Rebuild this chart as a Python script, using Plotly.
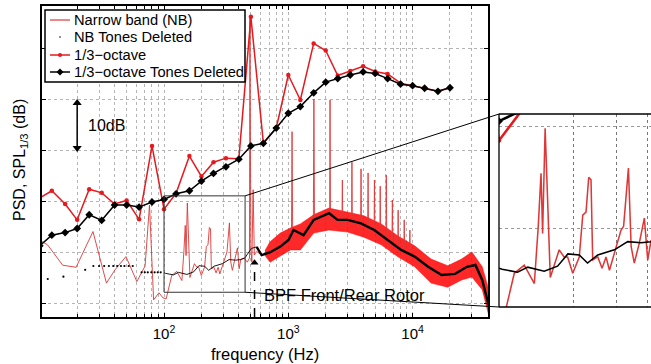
import numpy as np
import plotly.graph_objects as go

# ---------------- data ----------------
THIRD_OCT_F = [10, 12.5, 16, 20, 25, 31.5, 40, 50, 63, 80, 100, 125, 160, 200, 250,
               315, 400, 500, 630, 800, 1000, 1250, 1600, 2000, 2500, 3150, 4000,
               5000, 6300, 8000, 10000, 12500, 16000, 20000]
THIRD_OCT_DB = [30.8, 32.2, 29.6, 26.5, 32.5, 31.8, 29.6, 30.3, 26.6, 41.0, 28.6, 31.7,
                39.0, 35.0, 37.8, 38.6, 38.5, 66.3, 41.6, 44.5, 54.9, 50.0, 61.1, 59.7,
                54.8, 55.7, 56.6, 55.6, 55.1, 53.3, 52.8, 52.3, 51.7, 52.4]
THIRD_OCT_TD_DB = [21.4, 23.5, 24.0, 24.8, 27.5, 26.4, 29.4, 29.4, 29.0, 30.0, 30.5, 31.6,
                   32.2, 34.1, 35.6, 36.9, 38.4, 41.0, 41.5, 44.5, 47.4, 48.7, 51.4, 53.5,
                   54.2, 54.9, 55.5, 55.2, 54.2, 53.1, 52.8, 52.3, 51.7, 52.4]

NB_F = [10, 11.55, 15.3, 19.6, 26.8, 34.4, 40.3, 49.4, 60.4, 70.4, 76.4, 82.4, 91, 98,
        104, 115.4, 126.7, 139.2, 144.4, 148.2, 150.4, 154, 161.6, 175.7, 183.8, 190.1,
        199.4, 212, 219, 225.8, 231.6, 236.6, 240.4, 252.1, 262.4, 272.4, 281.2, 313.2,
        321, 335.8, 344.5, 354.8, 371.4, 389.8, 402.3, 414.9, 440, 468, 487, 491, 500,
        509, 521, 533, 556, 610, 670, 736, 810, 916, 1000, 1060, 1072, 1085, 1300, 1590,
        1607, 1625, 1900, 2150, 2167, 2185, 2700, 2723, 2745, 3230, 3251, 3275, 3820,
        3849, 3880, 4350, 4385, 4420, 4900, 4935, 4970, 5450, 5492, 5535, 6100, 6146,
        6195, 6820, 6876, 6930, 7600, 7655, 7710, 8500, 8569, 8640, 9440, 9510, 9580,
        12000, 16000, 22000, 28000, 33000, 37000, 41500]
NB_DB = [22.5, 21.6, 17.6, 17.2, 24.2, 14.1, 16.7, 19.3, 14.4, 17.45, 29.4, 10.8, 12.2, 11.2,
         11.0, 15.6, 16.4, 14.6, 20.2, 25.4, 19.5, 29.8, 15.2, 17.9, 17.2, 17.2,
         15.6, 17.2, 21.3, 21.6, 25.0, 24.75, 16.9, 17.2, 16.1, 17.2, 15.9, 19.8,
         20.2, 25.9, 18.2, 16.6, 18.5, 21.0, 16.9, 18.8, 19.0, 18.2, 19.0, 66.3, 20.6,
         18.2, 32.4, 19.6, 20.3, 19.6, 19.9, 20.9, 21.6, 22.6, 23.0, 22.5, 43.8, 22.5, 23.0, 25.5,
         50.2, 25.5, 26.5, 26.5, 50.0, 26.5, 25.5, 34.3, 25.5, 26.0, 37.8, 26.0, 25.5,
         36.5, 25.5, 24.5, 35.7, 24.5, 24.0, 34.3, 24.0, 23.5, 33.1, 23.5, 22.5, 35.3,
         22.5, 21.5, 30.4, 21.5, 20.5, 28.4, 20.5, 20.0, 26.5, 20.0, 19.5, 24.5, 19.5,
         17.5, 15.5, 16.0, 17.5, 17.0, 14.0, 8.5]

NB_TD_F = [11.6, 15.5, 23.2, 27, 30, 33, 36, 39, 42, 45, 48, 52, 56, 66, 70, 74, 79, 84,
           89, 94, 100, 103, 119, 130.8, 152.7, 173, 190.5, 212, 229, 252, 294.6, 333.5,
           378, 414, 446, 505, 556, 610, 710, 862, 1004, 1102, 1326, 1600, 2131, 2492,
           3000, 3843, 4920, 6305, 8089, 10390, 13340, 17130, 21990, 27370, 32040,
           36350, 41240]
NB_TD_DB = [14.9, 15.35, 16.7, 17.45, 17.45, 17.45, 17.45, 17.45, 17.45, 17.45, 17.45,
            17.45, 17.45, 16.2, 16.2, 16.2, 16.2, 16.2, 16.2, 16.2, 16.1, 16.0, 15.7, 16.2,
            15.8, 16.3, 17.5, 17.4, 16.6, 17.4, 17.9, 18.7, 18.6, 18.7, 19.0, 20.9, 21.2,
            19.6, 20.1, 21.25, 22.55, 24.5, 23.5, 26.5, 27.8, 26.5, 26.5, 25.8, 24.5,
            22.55, 20.6, 19.3, 17.3, 15.7, 15.9, 17.3, 17.65, 14.7, 9.5]

NB_BAND_F = [650, 714, 862, 1040, 1250, 1600, 2120, 3000, 4060, 5600, 7680, 10400,
             14100, 19200, 24800, 30000, 36350, 41500]
NB_BAND_HI_DB = [20.5, 22.2, 23.9, 24.9, 25.7, 27.5, 28.8, 28.0, 27.3, 25.7, 23.3, 21.4,
                 18.8, 17.5, 18.8, 20.2, 17.3, 12.4]
NB_BAND_LO_DB = [19.5, 18.2, 19.4, 20.6, 20.6, 23.9, 24.5, 24.1, 23.1, 21.6, 19.2, 17.3,
                 14.1, 13.3, 14.7, 15.3, 12.8, 7.3]

X_LABELED_TICKS = [100, 1000, 10000]
X_TICK_LABELS = ["10<sup>2</sup>", "10<sup>3</sup>", "10<sup>4</sup>"]
Y_GRID_DB = [10, 20, 30, 40, 50, 60]
INSET_X_GRID = [200, 300, 400]
INSET_Y_GRID = [20, 30]
ZOOM_F = [100, 449]
ZOOM_DB = [12.3, 31.2]
BPF_F = 535
BPF_DB = 19.0
SCALE_BAR_F = 20
SCALE_BAR_DB = [40, 50]
LEGEND_LABELS = ["Narrow band (NB)", "NB Tones Deleted", "1/3\u2212octave",
                 "1/3\u2212octave Tones Deleted"]

# ---------------- layout constants ----------------
W, H = 651, 364
FONT = "Liberation Sans, Arial, Helvetica, sans-serif"
NB_RED = "rgb(222,55,55)"
BAND_RED = "rgba(255,10,10,0.88)"
OCT_RED = "rgb(230,25,30)"
GRID = "#b4b4b4"


def px(x):
    return x / W


def py(y):
    return (H - y) / H


MAIN_X_DOM = [px(42), px(488)]
MAIN_Y_DOM = [py(317), py(6)]
MAIN_X_RANGE = [1.018, 4.607]
MAIN_Y_RANGE = [7.45, 68.43]
INSET_X_DOM = [px(499), 1.0]
INSET_Y_DOM = [py(307), py(114)]
INSET_PX_PER_DEC = 246.0
INSET_X_RANGE = [np.log10(ZOOM_F[0]), np.log10(ZOOM_F[0]) + (W - 499) / INSET_PX_PER_DEC]
INSET_Y_RANGE = ZOOM_DB


def main_fx(f):
    t = (np.log10(f) - MAIN_X_RANGE[0]) / (MAIN_X_RANGE[1] - MAIN_X_RANGE[0])
    return MAIN_X_DOM[0] + t * (MAIN_X_DOM[1] - MAIN_X_DOM[0])


def main_fy(v):
    t = (v - MAIN_Y_RANGE[0]) / (MAIN_Y_RANGE[1] - MAIN_Y_RANGE[0])
    return MAIN_Y_DOM[0] + t * (MAIN_Y_DOM[1] - MAIN_Y_DOM[0])


nb_td_f = np.array(NB_TD_F)
nb_td_db = np.array(NB_TD_DB)
low = nb_td_f < 100
mid = (nb_td_f >= 100) & (nb_td_f <= 556)
high = nb_td_f >= 556

fig = go.Figure()


def add_series(xa, ya, scale):
    fig.add_trace(go.Scatter(x=NB_BAND_F, y=NB_BAND_LO_DB, mode="lines",
                             line=dict(color=BAND_RED, width=0.6), xaxis=xa, yaxis=ya))
    fig.add_trace(go.Scatter(x=NB_BAND_F, y=NB_BAND_HI_DB, mode="lines", fill="tonexty",
                             fillcolor=BAND_RED, line=dict(color=BAND_RED, width=0.6),
                             xaxis=xa, yaxis=ya))
    fig.add_trace(go.Scatter(x=NB_F, y=NB_DB, mode="lines",
                             line=dict(color=NB_RED, width=0.9 * scale), xaxis=xa, yaxis=ya))
    fig.add_trace(go.Scatter(x=nb_td_f[low], y=nb_td_db[low], mode="markers",
                             marker=dict(color="black", size=2.2 * scale),
                             xaxis=xa, yaxis=ya))
    fig.add_trace(go.Scatter(x=nb_td_f[mid], y=nb_td_db[mid], mode="lines",
                             line=dict(color="black", width=0.9 * scale), xaxis=xa, yaxis=ya))
    fig.add_trace(go.Scatter(x=nb_td_f[high], y=nb_td_db[high], mode="lines",
                             line=dict(color="black", width=2.4), xaxis=xa, yaxis=ya))
    fig.add_trace(go.Scatter(x=THIRD_OCT_F, y=THIRD_OCT_DB, mode="lines+markers",
                             line=dict(color=OCT_RED, width=1.5 * scale),
                             marker=dict(color=OCT_RED, size=4.5, symbol="circle"),
                             xaxis=xa, yaxis=ya))
    fig.add_trace(go.Scatter(x=THIRD_OCT_F, y=THIRD_OCT_TD_DB, mode="lines+markers",
                             line=dict(color="black", width=1.5 * scale),
                             marker=dict(color="black", size=6, symbol="diamond"),
                             xaxis=xa, yaxis=ya))


add_series("x", "y", 1.0)
add_series("x2", "y2", 1.7)

# zoom rectangle in the main axes
fig.add_trace(go.Scatter(x=[ZOOM_F[0], ZOOM_F[1], ZOOM_F[1], ZOOM_F[0], ZOOM_F[0]],
                         y=[ZOOM_DB[0], ZOOM_DB[0], ZOOM_DB[1], ZOOM_DB[1], ZOOM_DB[0]],
                         mode="lines", line=dict(color="#333333", width=1),
                         xaxis="x", yaxis="y"))
# BPF dashed marker line with arrow head
fig.add_trace(go.Scatter(x=[BPF_F, BPF_F], y=[MAIN_Y_RANGE[0], BPF_DB - 0.6], mode="lines",
                         line=dict(color="black", width=1.5, dash="dash"),
                         xaxis="x", yaxis="y"))
fig.add_trace(go.Scatter(x=[BPF_F], y=[BPF_DB - 0.9], mode="markers",
                         marker=dict(symbol="triangle-up", size=7, color="black"),
                         xaxis="x", yaxis="y"))
# 10 dB scale bar (double arrow)
fig.add_trace(go.Scatter(x=[SCALE_BAR_F, SCALE_BAR_F], y=[SCALE_BAR_DB[0] + 0.3, SCALE_BAR_DB[1] - 0.3],
                         mode="lines", line=dict(color="black", width=1.5),
                         xaxis="x", yaxis="y"))
fig.add_trace(go.Scatter(x=[SCALE_BAR_F, SCALE_BAR_F],
                         y=[SCALE_BAR_DB[0] + 0.6, SCALE_BAR_DB[1] - 0.6], mode="markers",
                         marker=dict(symbol=["triangle-down", "triangle-up"], size=8,
                                     color="black"),
                         xaxis="x", yaxis="y"))

minor_vals = []
for dec in [10, 100, 1000, 10000]:
    for m in range(2, 10):
        v = dec * m
        if MAIN_X_RANGE[0] < np.log10(v) < MAIN_X_RANGE[1]:
            minor_vals.append(v)

axis_common = dict(showline=True, linecolor="black", linewidth=2, mirror="ticks",
                   ticks="inside", ticklen=4, tickcolor="black", tickwidth=1,
                   showgrid=True, gridcolor=GRID, griddash="dot", gridwidth=1,
                   zeroline=False)

fig.update_layout(
    width=W, height=H,
    margin=dict(l=0, r=0, t=0, b=0),
    paper_bgcolor="white", plot_bgcolor="white",
    showlegend=False,
    font=dict(family=FONT, size=15, color="black"),
    xaxis=dict(type="log", domain=MAIN_X_DOM, range=MAIN_X_RANGE, anchor="y",
               tickmode="array", tickvals=X_LABELED_TICKS, ticktext=X_TICK_LABELS,
               tickfont=dict(size=15), ticklabelstandoff=2,
               minor=dict(tickmode="array", tickvals=minor_vals, ticks="inside", ticklen=3,
                          tickcolor="black", showgrid=True, gridcolor=GRID,
                          griddash="dot", gridwidth=1),
               **axis_common),
    yaxis=dict(domain=MAIN_Y_DOM, range=MAIN_Y_RANGE, anchor="x",
               tickvals=Y_GRID_DB, showticklabels=False, **axis_common),
    xaxis2=dict(type="log", domain=INSET_X_DOM, range=INSET_X_RANGE, anchor="y2",
                tickvals=INSET_X_GRID, showticklabels=False, showgrid=True,
                gridcolor="#777777", griddash="dot", showline=False, zeroline=False,
                ticks=""),
    yaxis2=dict(domain=INSET_Y_DOM, range=INSET_Y_RANGE, anchor="x2",
                tickvals=INSET_Y_GRID, showticklabels=False, showgrid=True,
                gridcolor="#999999", griddash="dot", showline=False, zeroline=False,
                ticks=""),
)

shapes = []
# inset frame (left, top, bottom; right side lies outside the figure)
ix0, ix1 = INSET_X_DOM[0], 1.05
iy0, iy1 = INSET_Y_DOM
for (a, b, c, d) in [(ix0, iy0, ix0, iy1), (ix0, iy1, ix1, iy1), (ix0, iy0, ix1, iy0)]:
    shapes.append(dict(type="line", xref="paper", yref="paper", x0=a, y0=b, x1=c, y1=d,
                       line=dict(color="black", width=1.3)))
# connector lines from zoom box to inset
shapes.append(dict(type="line", xref="paper", yref="paper",
                   x0=main_fx(ZOOM_F[1]), y0=main_fy(ZOOM_DB[1]), x1=ix0, y1=iy1,
                   line=dict(color="black", width=1)))
shapes.append(dict(type="line", xref="paper", yref="paper",
                   x0=main_fx(ZOOM_F[1]), y0=main_fy(ZOOM_DB[0]), x1=ix0, y1=iy0,
                   line=dict(color="black", width=1)))

# manual legend
LX0, LX1, LY0, LY1 = 45, 245, 10, 82
shapes.append(dict(type="rect", xref="paper", yref="paper", x0=px(LX0), x1=px(LX1),
                   y0=py(LY1), y1=py(LY0), fillcolor="white",
                   line=dict(color="black", width=1.5)))
rows = [20, 37, 55, 72]
shapes.append(dict(type="line", xref="paper", yref="paper", x0=px(50), x1=px(70),
                   y0=py(rows[0]), y1=py(rows[0]), line=dict(color=NB_RED, width=1.2)))
shapes.append(dict(type="circle", xref="paper", yref="paper", x0=px(59.2), x1=px(60.8),
                   y0=py(rows[1] + 0.8), y1=py(rows[1] - 0.8), fillcolor="black",
                   line=dict(color="black", width=0)))
shapes.append(dict(type="line", xref="paper", yref="paper", x0=px(50), x1=px(70),
                   y0=py(rows[2]), y1=py(rows[2]), line=dict(color=OCT_RED, width=1.5)))
shapes.append(dict(type="circle", xref="paper", yref="paper", x0=px(58), x1=px(62),
                   y0=py(rows[2] + 2), y1=py(rows[2] - 2), fillcolor=OCT_RED,
                   line=dict(color=OCT_RED, width=0)))
shapes.append(dict(type="line", xref="paper", yref="paper", x0=px(50), x1=px(70),
                   y0=py(rows[3]), y1=py(rows[3]), line=dict(color="black", width=1.5)))
dpath = "M {a},{b} L {c},{d} L {a},{e} L {f},{d} Z".format(
    a=px(60), b=py(rows[3] - 3.5), c=px(63.5), d=py(rows[3]), e=py(rows[3] + 3.5), f=px(56.5))
shapes.append(dict(type="path", xref="paper", yref="paper", path=dpath,
                   fillcolor="black", line=dict(color="black", width=0)))

annotations = []
for lab, r in zip(LEGEND_LABELS, rows):
    annotations.append(dict(text=lab, xref="paper", yref="paper", x=px(72), y=py(r),
                            xanchor="left", yanchor="middle", showarrow=False,
                            font=dict(size=14.7)))
annotations.append(dict(text="10dB", xref="paper", yref="paper", x=px(86), y=py(125),
                        xanchor="left", yanchor="middle", showarrow=False,
                        font=dict(size=16)))
annotations.append(dict(text="BPF Front/Rear Rotor", xref="paper", yref="paper",
                        x=px(262), y=py(295), xanchor="left", yanchor="middle",
                        showarrow=False, font=dict(size=16.5)))
# axis titles
annotations.append(dict(text="frequency (Hz)", xref="paper", yref="paper", x=px(265),
                        y=py(353.5), xanchor="center", yanchor="middle", showarrow=False,
                        font=dict(size=16.5)))
annotations.append(dict(text="PSD, SPL<sub>1/3</sub> (dB)", xref="paper", yref="paper",
                        x=px(20), y=py(160), xanchor="center", yanchor="middle",
                        textangle=-90, showarrow=False, font=dict(size=16)))

fig.update_layout(shapes=shapes, annotations=annotations)
fig.write_html("out.html")
